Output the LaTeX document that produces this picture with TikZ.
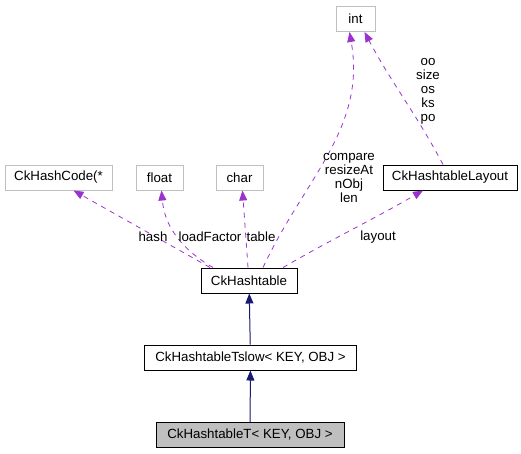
\documentclass[tikz,border=0pt]{standalone}
\usepackage{fontspec}
\setmainfont{Liberation Sans}
\usetikzlibrary{arrows.meta}
\definecolor{member}{HTML}{9A32CD}
\definecolor{inherit}{HTML}{191970}
\definecolor{extgray}{HTML}{BFBFBF}

\begin{document}
\begin{tikzpicture}[
    x=1pt, y=1pt,
    every node/.style={font=\fontsize{13.3}{14}\selectfont},
    box/.style={draw, line width=1pt, minimum height=25pt, inner sep=0pt, align=center},
    extbox/.style={box, draw=extgray},
    dep/.style={-{Triangle[length=10pt,width=8pt]}, member, line width=0.8pt, dash pattern=on 5pt off 5pt},
    isa/.style={-{Triangle[length=10pt,width=8pt]}, inherit, line width=1pt},
    lbl/.style={align=center, inner sep=0pt}
  ]
    \useasboundingbox (0,0) rectangle (521,-453);
    % external types
    \node[extbox, minimum width=39pt] (int) at (355.5,-19) {int};
    \node[extbox, minimum width=107pt] (hashcode) at (58.5,-177.5) {CkHashCode(*};
    \node[extbox, minimum width=47pt] (float) at (159.5,-177.5) {float};
    \node[extbox, minimum width=47pt] (char) at (239.5,-177.5) {char};
    % classes
    \node[box, minimum width=134pt] (layout) at (450,-177.5) {CkHashtableLayout};
    \node[box, minimum width=96pt] (hashtable) at (249,-280.5) {CkHashtable};
    \node[box, minimum width=212pt] (tslow) at (250.5,-357.5) {CkHashtableTslow< KEY, OBJ >};
    \node[box, minimum width=188pt, fill=extgray] (ckt) at (250,-435) {CkHashtableT< KEY, OBJ >};

    % members
    \draw[dep] ([xshift=-39pt]hashtable.north) -- ([xshift=15pt]hashcode.south);
    \draw[dep] ([xshift=-36pt]hashtable.north) to[out=150,in=-85] ([xshift=2pt]float.south);
    \draw[dep] ([xshift=-1pt]hashtable.north) -- ([xshift=3pt]char.south);
    \draw[dep] ([xshift=14pt]hashtable.north) to[out=65,in=-80] ([xshift=-6pt]int.south);
    \draw[dep] ([xshift=34pt]hashtable.north) to[out=30,in=-150] ([xshift=-27pt]layout.south);
    \draw[dep] ([xshift=-7pt]layout.north) to[out=118,in=-62] ([xshift=9pt]int.south);

    \node[lbl] (lhash) at (153,-237) {hash};
    \node[lbl] (lload) at (210,-237) {loadFactor};
    \node[lbl] (ltable) at (261,-237) {table};
    \node[lbl] (llayout) at (378,-237) {layout};
    \node[lbl] (lint) at (349,-177.5) {compare\\resizeAt\\nObj\\len};
    \node[lbl] (lsizes) at (428,-91) {oo\\size\\os\\ks\\po};

    % inheritance
    \draw[isa] (tslow) -- (hashtable);
    \draw[isa] (ckt) -- (tslow);
  \end{tikzpicture}
\end{document}
